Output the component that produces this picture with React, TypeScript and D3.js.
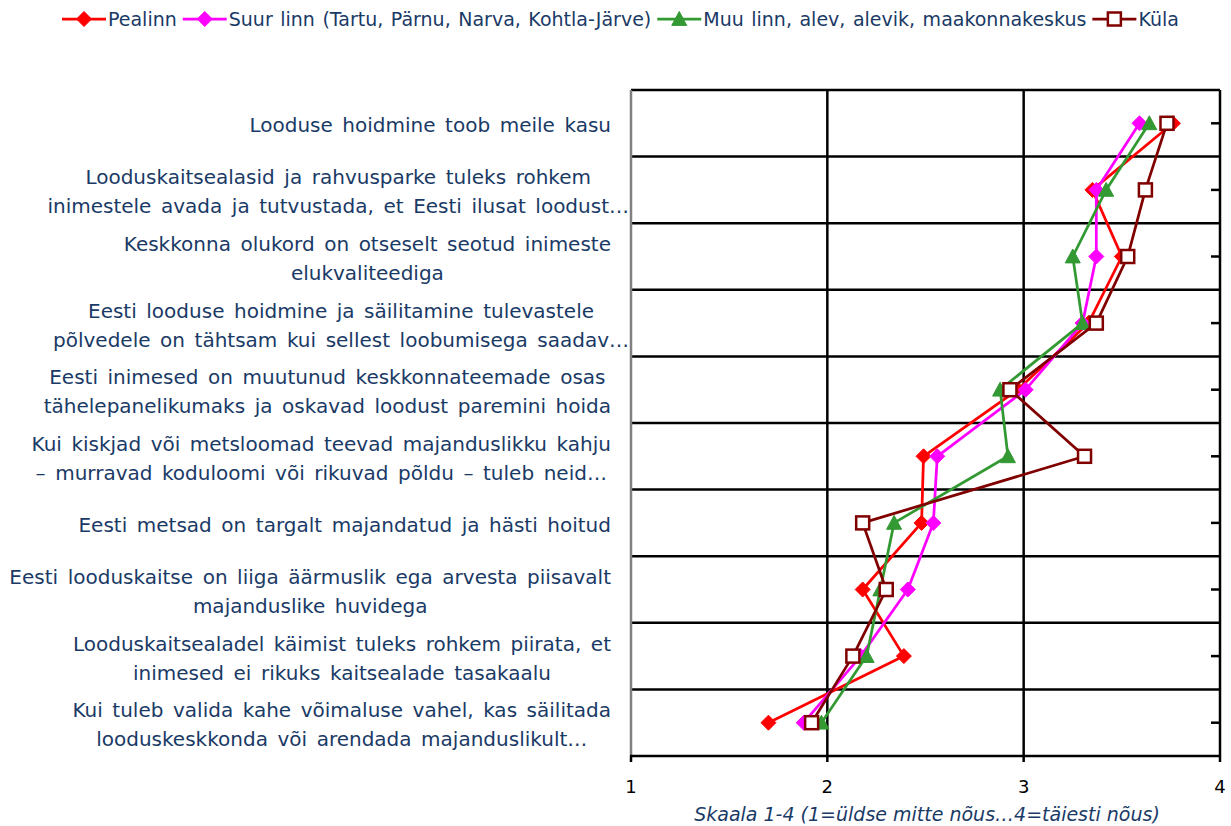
import React, { useEffect, useRef } from 'react';
import * as d3 from 'd3';

const categories: string[][] = [
  ["Looduse hoidmine toob meile kasu"],
  ["Looduskaitsealasid ja rahvusparke tuleks rohkem", "inimestele avada ja tutvustada, et Eesti ilusat loodust…"],
  ["Keskkonna olukord on otseselt seotud inimeste", "elukvaliteediga"],
  ["Eesti looduse hoidmine ja säilitamine tulevastele", "põlvedele on tähtsam kui sellest loobumisega saadav…"],
  ["Eesti inimesed on muutunud keskkonnateemade osas", "tähelepanelikumaks ja oskavad loodust paremini hoida"],
  ["Kui kiskjad või metsloomad teevad majanduslikku kahju", "– murravad koduloomi või rikuvad põldu – tuleb neid…"],
  ["Eesti metsad on targalt majandatud ja hästi hoitud"],
  ["Eesti looduskaitse on liiga äärmuslik ega arvesta piisavalt", "majanduslike huvidega"],
  ["Looduskaitsealadel käimist tuleks rohkem piirata, et", "inimesed ei rikuks kaitsealade  tasakaalu"],
  ["Kui tuleb valida kahe võimaluse vahel, kas säilitada", "looduskeskkonda või arendada majanduslikult…"],
];

const seriesNames = ["Pealinn", "Suur linn (Tartu, Pärnu, Narva, Kohtla-Järve)", "Muu linn, alev, alevik, maakonnakeskus", "Küla"];

const pealinn = [3.76, 3.35, 3.50, 3.33, 2.97, 2.49, 2.48, 2.18, 2.39, 1.70];
const suurLinn = [3.59, 3.37, 3.37, 3.30, 3.01, 2.56, 2.54, 2.41, 2.17, 1.88];
const muuLinn = [3.64, 3.42, 3.25, 3.30, 2.88, 2.92, 2.34, 2.27, 2.20, 1.97];
const kula = [3.73, 3.62, 3.53, 3.37, 2.93, 3.31, 2.18, 2.30, 2.13, 1.92];

const xTicks = [1, 2, 3, 4];
const xTitle = "Skaala 1-4 (1=üldse mitte nõus…4=täiesti nõus)";

const seriesValues = [pealinn, suurLinn, muuLinn, kula];
const seriesColors = ["#FF0000", "#FF00FF", "#339933", "#800000"];
const seriesMarkers = ["diamond", "diamond", "triangle", "square"];

const W = 1231, H = 826;
const plot = { left: 631, right: 1220, top: 90, bottom: 756 };
const textColor = "#1A3A66";
const FONT = "'DejaVu Sans', Verdana, sans-serif";

function drawMarker(g: any, type: string, color: string, x: number, y: number) {
  if (type === "diamond") {
    const r = 7.5;
    g.append("path")
      .attr("d", `M${x},${y - r}L${x + r},${y}L${x},${y + r}L${x - r},${y}Z`)
      .attr("fill", color).attr("stroke", color).attr("stroke-width", 1);
  } else if (type === "triangle") {
    const r = 7.5;
    g.append("path")
      .attr("d", `M${x},${y - r}L${x + r},${y + r * 0.85}L${x - r},${y + r * 0.85}Z`)
      .attr("fill", color).attr("stroke", color).attr("stroke-width", 1);
  } else {
    const s = 13;
    g.append("rect")
      .attr("x", x - s / 2).attr("y", y - s / 2).attr("width", s).attr("height", s)
      .attr("fill", "#FFFFFF").attr("stroke", color).attr("stroke-width", 2.5);
  }
}

export default function App() {
  const ref = useRef<SVGSVGElement>(null);

  useEffect(() => {
    const svg = d3.select(ref.current);
    svg.selectAll("*").remove();

    const x = d3.scaleLinear().domain([1, 4]).range([plot.left, plot.right]);
    const yBand = d3.scaleBand<number>().domain(d3.range(categories.length)).range([plot.top, plot.bottom]).padding(0);
    const yc = (i: number) => (yBand(i) as number) + yBand.bandwidth() / 2;

    const grid = svg.append("g");
    const bounds = d3.range(categories.length + 1).map(i => plot.top + i * yBand.bandwidth());
    bounds.forEach((b, i) => {
      if (i === categories.length) return;
      grid.append("line").attr("x1", plot.left).attr("x2", plot.right).attr("y1", b).attr("y2", b)
        .attr("stroke", "#000").attr("stroke-width", 2.5);
    });
    xTicks.slice(1).forEach(t => {
      grid.append("line").attr("x1", x(t)).attr("x2", x(t)).attr("y1", plot.top).attr("y2", plot.bottom)
        .attr("stroke", "#000").attr("stroke-width", 2.5);
    });
    grid.append("line").attr("x1", plot.left).attr("x2", plot.left).attr("y1", plot.top).attr("y2", plot.bottom)
      .attr("stroke", "#808080").attr("stroke-width", 2.5);
    grid.append("line").attr("x1", plot.left - 1).attr("x2", plot.right + 1).attr("y1", plot.bottom).attr("y2", plot.bottom)
      .attr("stroke", "#000").attr("stroke-width", 2.5);
    xTicks.forEach(t => {
      grid.append("line").attr("x1", x(t)).attr("x2", x(t)).attr("y1", plot.bottom).attr("y2", plot.bottom + 6)
        .attr("stroke", "#000").attr("stroke-width", 2.5);
      grid.append("text").attr("x", x(t)).attr("y", 793).attr("text-anchor", "middle")
        .attr("font-family", FONT).attr("font-size", 18).attr("fill", "#000").text(String(t));
    });
    categories.forEach((_, i) => {
      grid.append("line").attr("x1", plot.right - 9).attr("x2", plot.right).attr("y1", yc(i)).attr("y2", yc(i))
        .attr("stroke", "#000").attr("stroke-width", 2.5);
    });

    svg.append("text").attr("x", 927).attr("y", 821).attr("text-anchor", "middle")
      .attr("font-family", FONT).attr("font-size", 19).attr("font-style", "italic").attr("fill", textColor)
      .text(xTitle);

    const lh = 29;
    const labG = svg.append("g");
    categories.forEach((lines, i) => {
      const texts = lines.map((ln, j) => labG.append("text")
        .attr("y", yc(i) + (j - (lines.length - 1) / 2) * lh + 2)
        .attr("dy", "0.35em")
        .attr("text-anchor", "middle")
        .attr("font-family", FONT).attr("font-size", 20).attr("word-spacing", 3.2)
        .attr("fill", textColor).text(ln));
      let cx = Infinity;
      texts.forEach((t, j) => {
        const w = (t.node() as SVGTextElement).getComputedTextLength();
        const R = lines[j].endsWith("…") ? 629 : 611;
        cx = Math.min(cx, R - w / 2);
      });
      texts.forEach(t => t.attr("x", cx));
    });

    const line = d3.line<number>().x(d => x(d)).y((_, i) => yc(i));
    seriesValues.forEach((vals, s) => {
      const g = svg.append("g");
      g.append("path").attr("d", line(vals) as string).attr("fill", "none")
        .attr("stroke", seriesColors[s]).attr("stroke-width", 2.75).attr("stroke-linejoin", "round");
      vals.forEach((v, i) => drawMarker(g, seriesMarkers[s], seriesColors[s], x(v), yc(i)));
    });

    const lg = svg.append("g");
    let lx = 62;
    const ly = 19;
    seriesNames.forEach((name, s) => {
      lg.append("line").attr("x1", lx).attr("x2", lx + 44).attr("y1", ly).attr("y2", ly)
        .attr("stroke", seriesColors[s]).attr("stroke-width", 2.75);
      drawMarker(lg, seriesMarkers[s], seriesColors[s], lx + 22, ly);
      const t = lg.append("text").attr("x", lx + 46).attr("y", ly).attr("dy", "0.35em")
        .attr("font-family", FONT).attr("font-size", 19).attr("word-spacing", 1.5)
        .attr("fill", textColor).text(name);
      const w = (t.node() as SVGTextElement).getComputedTextLength();
      lx = lx + 46 + w + 6;
    });
  }, []);

  return (
    <svg ref={ref} width={W} height={H} style={{ position: 'absolute', left: 0, top: 0, background: '#fff' }} />
  );
}
